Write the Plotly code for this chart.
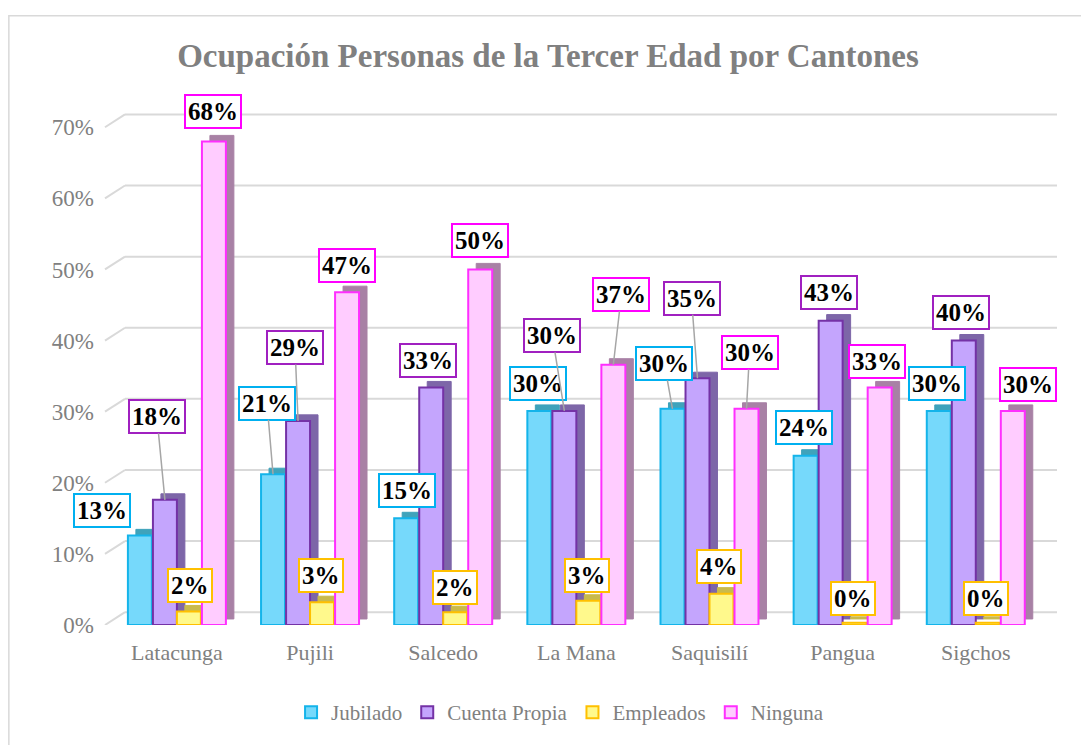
import plotly.graph_objects as go

# ---------------- data ----------------
cantones = ["Latacunga", "Pujili", "Salcedo", "La Mana", "Saquisilí", "Pangua", "Sigchos"]
series_names = ["Jubilado", "Cuenta Propia", "Empleados", "Ninguna"]
jubilado = [0.126, 0.212, 0.150, 0.301, 0.304, 0.238, 0.301]
cuenta_propia = [0.176, 0.287, 0.334, 0.301, 0.347, 0.428, 0.400]
empleados = [0.019, 0.032, 0.018, 0.034, 0.044, 0.003, 0.003]
ninguna = [0.680, 0.468, 0.500, 0.366, 0.304, 0.334, 0.301]
y_ticks = [0.0, 0.1, 0.2, 0.3, 0.4, 0.5, 0.6, 0.7]

values = [jubilado, cuenta_propia, empleados, ninguna]

# ---------------- styles ----------------
FONT = "Liberation Serif, Times New Roman, serif"
fills = ["#76d9fb", "#c4a5fd", "#fff98c", "#ffccff"]
borders = ["#14b4ea", "#7432a6", "#ffc000", "#ff2eff"]
sides = ["#3fa3bb", "#7d66a8", "#c9ba4c", "#a881a5"]
label_borders = ["#00b0f0", "#a020c0", "#ffc000", "#ff00ff"]

bar_w = 0.18
centers = [-0.278, -0.090, 0.090, 0.278]
depth_x = 0.06
depth_y = 0.0085

# label pixel offsets (box center relative to bar top) and leader-line flags
label_ax = [
    [-38, -6, 1, -1, -8, -2, -2],
    [-8, -3, -3, -12, -6, -2, -3],
    [1, -1, 0, -1, -2, -2, -2],
    [-1, 0, 0, 8, 3, -3, 15],
]
label_ay = [
    [-25, -71, -28, -27, -45, -28, -27],
    [-83, -73, -27, -75, -80, -28, -28],
    [-26, -27, -25, -25, -27, -24, -24],
    [-30, -27, -29, -70, -56, -26, -26],
]
leader = [
    [0, 1, 0, 0, 1, 0, 0],
    [1, 1, 0, 1, 1, 0, 0],
    [0, 0, 0, 0, 0, 0, 0],
    [0, 0, 0, 1, 1, 0, 0],
]

xs = list(range(len(cantones)))
fig = go.Figure()

# side/top faces (pseudo 3D)
for i, vals in enumerate(values):
    fig.add_trace(go.Bar(
        x=xs, y=vals, base=[depth_y] * len(vals),
        width=bar_w, offset=centers[i] - bar_w / 2 + depth_x,
        marker=dict(color=sides[i], line=dict(color=sides[i], width=1)),
        showlegend=False, hoverinfo="skip",
    ))

# front faces
for i, vals in enumerate(values):
    fig.add_trace(go.Bar(
        x=xs, y=vals, name=series_names[i],
        width=bar_w, offset=centers[i] - bar_w / 2,
        marker=dict(color=fills[i], line=dict(color=borders[i], width=2)),
    ))

# 3D-like gridlines: front diagonal + back wall line
back_x = 0.021
grid_shift = 0.018
shapes = []
for t in y_ticks:
    shapes.append(dict(type="line", xref="paper", yref="y", x0=0, x1=back_x,
                       y0=t, y1=t + grid_shift, line=dict(color="#d9d9d9", width=2), layer="below"))
    shapes.append(dict(type="line", xref="paper", yref="y", x0=back_x, x1=1,
                       y0=t + grid_shift, y1=t + grid_shift, line=dict(color="#d9d9d9", width=2), layer="below"))
# chart border
shapes.append(dict(type="rect", xref="paper", yref="paper", x0=-0.101, x1=1.028, y0=-0.4, y1=1.19,
                   line=dict(color="#d9d9d9", width=1.5), fillcolor="rgba(0,0,0,0)", layer="below"))

annotations = []
for i, vals in enumerate(values):
    for j, v in enumerate(vals):
        annotations.append(dict(
            x=j + centers[i], y=v, xref="x", yref="y",
            text=f"{v:.0%}", showarrow=True, arrowhead=0,
            arrowwidth=1.5,
            arrowcolor="#a6a6a6" if leader[i][j] else "rgba(0,0,0,0)",
            ax=label_ax[i][j], ay=label_ay[i][j],
            font=dict(family=FONT, size=25, color="black", weight="bold"),
            bgcolor="white", bordercolor=label_borders[i], borderwidth=2, borderpad=2,
        ))

W, H = 1081, 737
fig.update_layout(
    width=W, height=H,
    barmode="overlay",
    paper_bgcolor="white", plot_bgcolor="white",
    margin=dict(l=97, r=32, t=105, b=117),
    title=dict(text="Ocupación Personas de la Tercer Edad por Cantones",
               x=540 / W, xanchor="center", y=1 - 47 / H, yanchor="middle", yref="container",
               font=dict(family=FONT, size=33, color="#808080", weight="bold")),
    xaxis=dict(range=[-0.54, 6.61], tickmode="array", tickvals=xs, ticktext=cantones,
               showgrid=False, zeroline=False, showline=False, ticks="",
               tickfont=dict(family=FONT, size=22, color="#808080"), ticklabelstandoff=12),
    yaxis=dict(range=[0, 0.72], tickmode="array", tickvals=y_ticks, tickformat=".0%",
               showgrid=False, zeroline=False, showline=False, ticks="",
               tickfont=dict(family=FONT, size=23, color="#808080"), ticklabelstandoff=10),
    legend=dict(orientation="h", x=0.478, xanchor="center", y=-0.171, yanchor="middle",
                font=dict(family=FONT, size=21, color="#808080"), itemwidth=30,
                tracegroupgap=0, bgcolor="rgba(0,0,0,0)"),
    shapes=shapes,
    annotations=annotations,
)

fig.write_html("out.html")
